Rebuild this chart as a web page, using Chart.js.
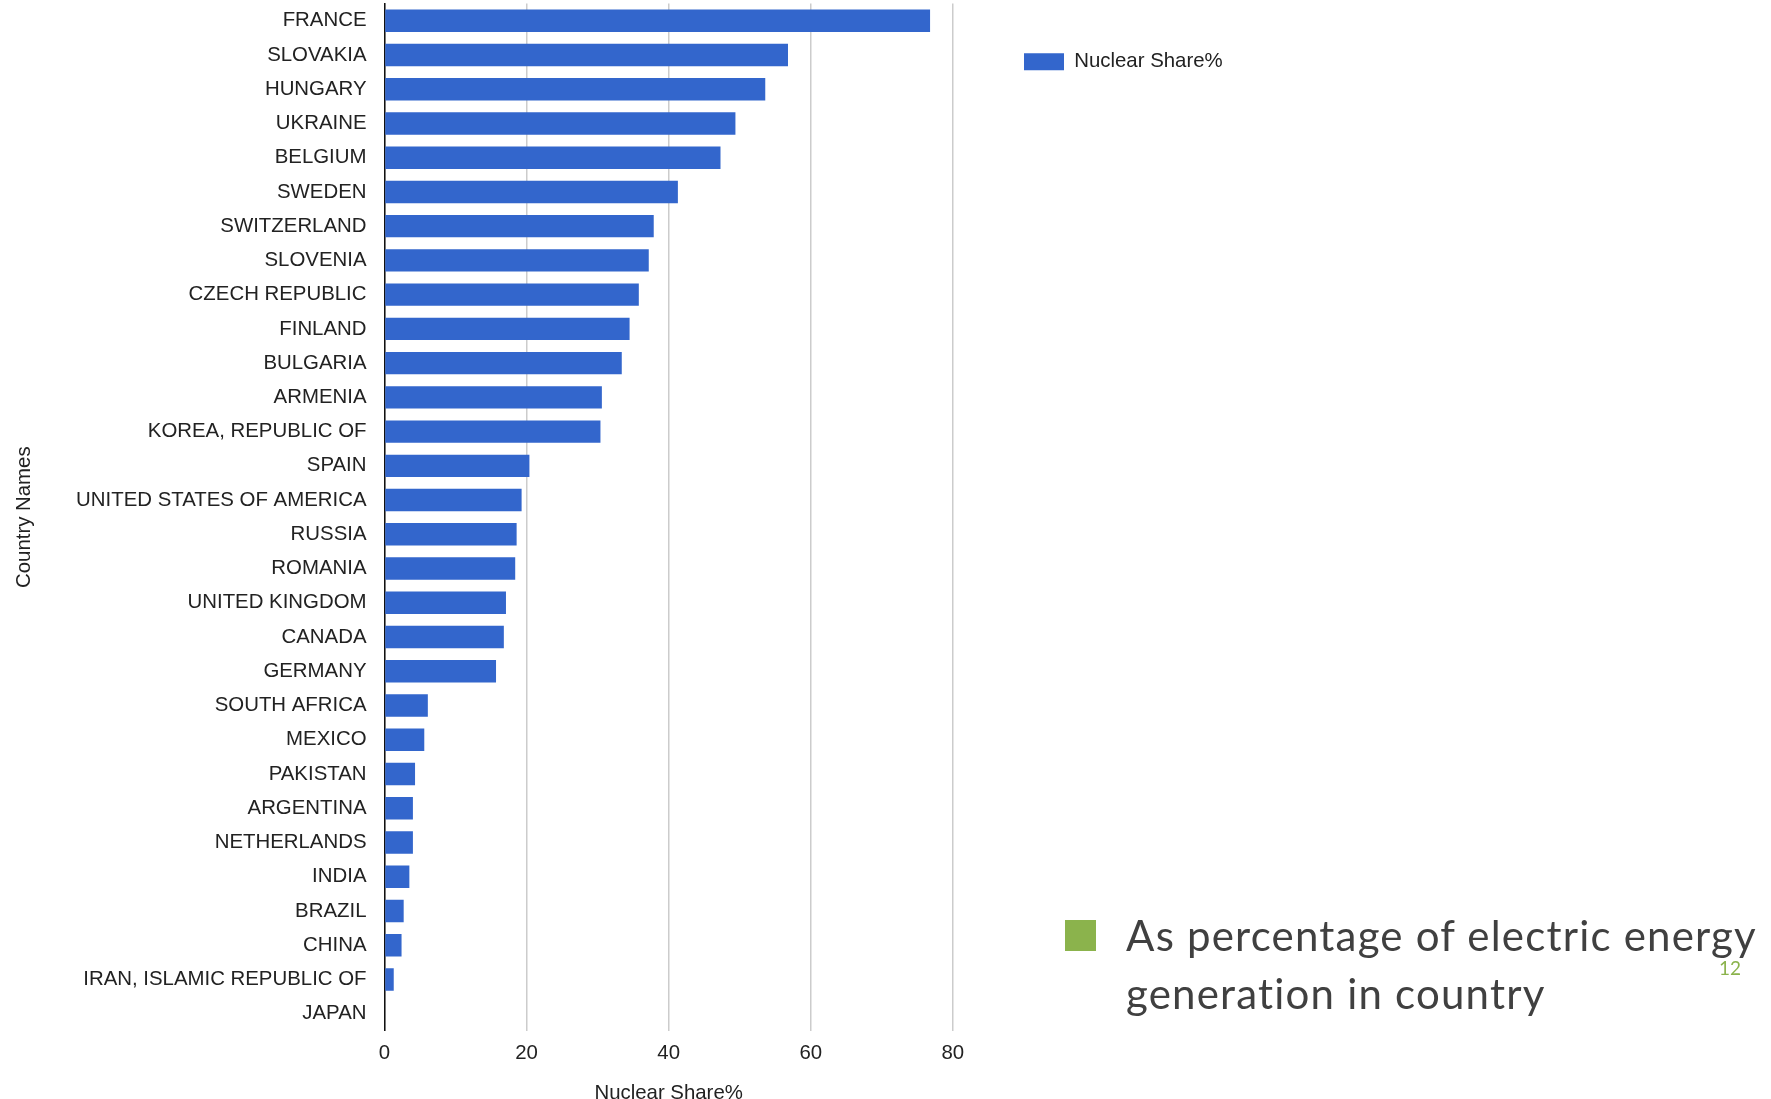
<!DOCTYPE html>
<html>
<head>
<meta charset="utf-8">
<script src="https://cdn.jsdelivr.net/npm/chart.js@4.4.1/dist/chart.umd.min.js"></script>
<style>
  html, body { margin: 0; padding: 0; background: #fff; }
  #wrap { position: relative; width: 1771px; height: 1099px; overflow: hidden; }
  #caixaGrafico { position: absolute; left: 0; top: 0; width: 1771px; height: 1099px; }
  .marcador { position: absolute; left: 1065px; top: 920px; width: 31px; height: 31px; background: #8bb34c; }
  .nota { position: absolute; left: 1126px; top: 906px; font-family: Lato, sans-serif; font-size: 42px; letter-spacing: 1.2px; line-height: 58px; color: #404040; white-space: nowrap; font-variant-ligatures: none; }
  .pagina { position: absolute; left: 1719px; top: 956px; font-family: Lato, sans-serif; font-size: 19px; color: #8bb34c; }
</style>
</head>
<body>
<div id="wrap">
  <div id="caixaGrafico"><canvas id="barChart"></canvas></div>
  <div class="marcador"></div>
  <div class="nota">As percentage of electric energy<br>generation in country</div>
  <div class="pagina">12</div>
</div>
<script>
// Dados (participação nuclear, %)
const paises = [
  'FRANCE', 'SLOVAKIA', 'HUNGARY', 'UKRAINE', 'BELGIUM', 'SWEDEN', 'SWITZERLAND',
  'SLOVENIA', 'CZECH REPUBLIC', 'FINLAND', 'BULGARIA', 'ARMENIA', 'KOREA, REPUBLIC OF',
  'SPAIN', 'UNITED STATES OF AMERICA', 'RUSSIA', 'ROMANIA', 'UNITED KINGDOM', 'CANADA',
  'GERMANY', 'SOUTH AFRICA', 'MEXICO', 'PAKISTAN', 'ARGENTINA', 'NETHERLANDS', 'INDIA',
  'BRAZIL', 'CHINA', 'IRAN, ISLAMIC REPUBLIC OF', 'JAPAN'
];
const participacao = [
  76.8, 56.8, 53.6, 49.4, 47.3, 41.3, 37.9,
  37.2, 35.8, 34.5, 33.4, 30.6, 30.4,
  20.4, 19.3, 18.6, 18.4, 17.1, 16.8,
  15.7, 6.1, 5.6, 4.3, 4.0, 4.0, 3.5,
  2.7, 2.4, 1.3, 0
];
const ticksX = [0, 20, 40, 60, 80];
const nomeSerie = 'Nuclear Share%';
const tituloX = 'Nuclear Share%';
const tituloY = 'Country Names';

// Layout (px)
const W = 1771, H = 1099;
const areaEsq = 384.5, areaDir = 952.8, areaTopo = 3.6, areaBase = 1030.8;
const legendaPad = 48, legendaCaixa = 1024;
const legendaEsq = legendaCaixa - legendaPad;

const fonte = "'Liberation Sans', Arial, sans-serif";
const tamFonte = 20.4;
const corTexto = '#222';

const ctxBar = document.getElementById('barChart').getContext('2d');

const grafico = new Chart(ctxBar, {
  type: 'bar',
  data: {
    labels: paises,
    datasets: [{
      label: nomeSerie,
      data: participacao,
      backgroundColor: '#3366cc',
      borderWidth: 0,
      barPercentage: 0.655,
      categoryPercentage: 1
    }]
  },
  options: {
    indexAxis: 'y',
    responsive: true,
    maintainAspectRatio: false,
    animation: false,
    devicePixelRatio: 1,
    layout: { padding: { left: 0, top: areaTopo, right: 500, bottom: 0 } },
    plugins: {
      tooltip: { enabled: false },
      legend: {
        position: 'right',
        align: 'start',
        maxWidth: 400,
        labels: {
          boxWidth: 40,
          boxHeight: 17,
          padding: legendaPad,
          color: corTexto,
          font: { size: tamFonte, family: fonte }
        }
      }
    },
    scales: {
      x: {
        type: 'linear',
        min: 0,
        max: 80,
        afterBuildTicks: (s) => { s.ticks = ticksX.map(v => ({ value: v })); },
        afterFit: (s) => { s.height = H - areaBase; s.paddingLeft = 0; s.paddingRight = 0; },
        grid: { color: '#cccccc', lineWidth: 1.5, drawTicks: false },
        border: { display: false },
        ticks: { padding: 10, color: corTexto, font: { size: tamFonte, family: fonte } },
        title: {
          display: true,
          text: tituloX,
          color: corTexto,
          padding: { top: 0, bottom: 0 },
          font: { size: tamFonte, family: fonte, lineHeight: 0.6 }
        }
      },
      y: {
        z: 1,
        afterFit: (s) => { s.width = areaEsq; s.paddingTop = 0; s.paddingBottom = 0; },
        grid: { display: false, drawTicks: false },
        border: { display: true, color: '#111', width: 1.5 },
        ticks: { autoSkip: false, padding: 18, color: corTexto, font: { size: tamFonte, family: fonte } },
        title: {
          display: true,
          text: tituloY,
          color: corTexto,
          padding: { top: 12.5, bottom: 0 },
          font: { size: tamFonte, family: fonte }
        }
      },
      // eixo vazio só para afastar a legenda da área do gráfico
      yEspaco: {
        type: 'linear',
        position: 'right',
        grid: { display: false },
        border: { display: false },
        ticks: { display: false },
        afterFit: (s) => { s.width = legendaEsq - areaDir; }
      }
    }
  }
});

// ajusta o padding direito para a legenda começar na posição certa
grafico.options.layout.padding.right = W - legendaEsq - grafico.legend.width;
grafico.update();
</script>
</body>
</html>
